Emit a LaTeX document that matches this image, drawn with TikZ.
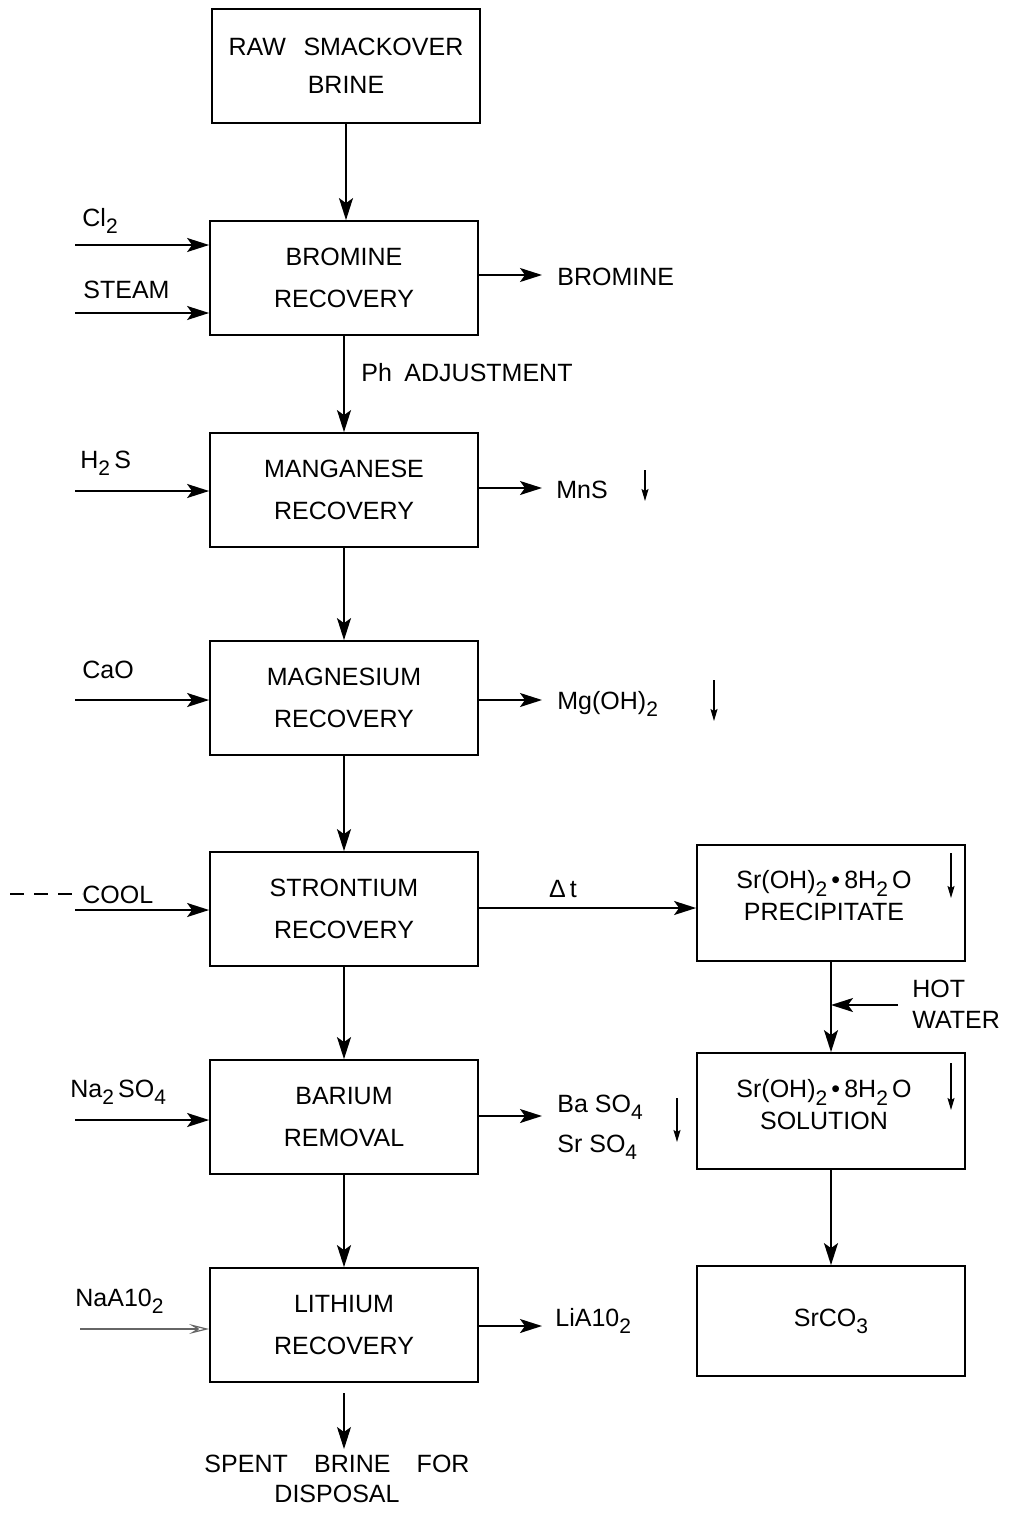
\documentclass[tikz,border=0pt]{standalone}
\usepackage{fontspec}
\setmainfont{Liberation Sans}
\usetikzlibrary{arrows.meta}
\newcommand\sbs[1]{\raisebox{-0.55ex}{\fontsize{10.5}{10.5}\selectfont #1}}
\begin{document}
\begin{tikzpicture}[x=0.5pt,y=-0.5pt,
  box/.style={draw,line width=0.9pt,minimum width=134pt,minimum height=57pt,align=center,
    font=\fontsize{12.5}{21}\selectfont,inner sep=0pt},
  rbox/.style={box,font=\fontsize{12.5}{18}\selectfont},
  lbl/.style={font=\fontsize{12.5}{15}\selectfont,inner sep=0pt,anchor=base west},
  flow/.style={line width=0.9pt,-{Stealth[length=11pt,width=7pt,inset=2.5pt]}},
  pdown/.style={line width=0.6pt,-{Stealth[length=6pt,width=3.5pt,inset=1pt]}}
]
\useasboundingbox (0,0) rectangle (1016,1515);

% main column
\node[box,font=\fontsize{12.5}{19}\selectfont] (raw) at (346,66) {RAW\hspace{0.7em}SMACKOVER\\BRINE};
\node[box] (brom) at (344,278) {BROMINE\\RECOVERY};
\node[box] (mang) at (344,490) {MANGANESE\\RECOVERY};
\node[box] (magn) at (344,698) {MAGNESIUM\\RECOVERY};
\node[box] (stro) at (344,909) {STRONTIUM\\RECOVERY};
\node[box] (bari) at (344,1117) {BARIUM\\REMOVAL};
\node[box] (lith) at (344,1325) {LITHIUM\\RECOVERY};

% right column
\node[rbox,minimum height=58pt] (prec) at (831,903) {};
\node[lbl,anchor=center,align=center] (prect) at (824,896) {Sr(OH)\sbs{2}\,\textbullet\,8H\sbs{2}\,O\\[1pt]PRECIPITATE};
\node[rbox,minimum height=58pt] (sol) at (831,1111) {};
\node[lbl,anchor=center,align=center] (solt) at (824,1105) {Sr(OH)\sbs{2}\,\textbullet\,8H\sbs{2}\,O\\[1pt]SOLUTION};
\node[rbox,minimum height=55pt] (srco) at (831,1321) {SrCO\sbs{3}};

% main flow
\draw[flow] (raw.south) -- (raw.south |- brom.north);
\draw[flow] (brom) -- (mang);
\draw[flow] (mang) -- (magn);
\draw[flow] (magn) -- (stro);
\draw[flow] (stro) -- (bari);
\draw[flow] (bari) -- (lith);
\coordinate (lithout) at (344,1393);
\node[lbl,anchor=north,align=center,font=\fontsize{12.5}{15}\selectfont] (spent) at (337,1455) {SPENT\hspace{1.05em}BRINE\hspace{1.05em}FOR\\DISPOSAL};
\draw[flow,line width=0.6pt] (lithout) -- ([yshift=3pt]lithout |- spent.north);

\node[lbl] (ph) at (361,381) {Ph\hspace{0.5em}ADJUSTMENT};

% inputs
\coordinate (clin) at (75,245);
\coordinate (stin) at (75,313);
\coordinate (h2in) at (75,491);
\coordinate (cain) at (75,700);
\coordinate (coin) at (75,910);
\coordinate (nain) at (75,1120);
\coordinate (alin) at (80,1329);
\node[lbl] (cl) at (82,226) {Cl\sbs{2}};
\node[lbl] (st) at (83,298) {STEAM};
\node[lbl] (h2s) at (80,468) {H\sbs{2}\,S};
\node[lbl] (cao) at (82,678) {CaO};
\node[lbl] (cool) at (82,903) {COOL};
\node[lbl] (na) at (70,1097) {Na\sbs{2}\,SO\sbs{4}};
\node[lbl] (naal) at (75,1306) {NaA10\sbs{2}};
\coordinate (dashstart) at (10,894);
\draw[line width=0.8pt,dash pattern=on 7pt off 5pt] (dashstart) -- (cool.west |- dashstart);

\draw[flow] (clin) -- (clin -| brom.west);
\draw[flow] (stin) -- (stin -| brom.west);
\draw[flow] (h2in) -- (h2in -| mang.west);
\draw[flow] (cain) -- (cain -| magn.west);
\draw[flow] (coin) -- (coin -| stro.west);
\draw[flow] (nain) -- (nain -| bari.west);
\draw[flow,line width=0.6pt,black!60,-{Stealth[length=10pt,width=5pt,inset=4pt,open]}] (alin) -- (alin -| lith.west);

% outputs
\coordinate (bo) at (542,275);
\coordinate (mo) at (542,488);
\coordinate (go) at (542,700);
\coordinate (bao) at (542,1116);
\coordinate (lo) at (542,1326);
\draw[flow] (brom.east |- bo) -- (bo);
\draw[flow] (mang.east |- mo) -- (mo);
\draw[flow] (magn.east |- go) -- (go);
\draw[flow] (bari.east |- bao) -- (bao);
\draw[flow] (lith.east |- lo) -- (lo);
\node[lbl] (brout) at (557,285) {BROMINE};
\node[lbl] (mns) at (556,498) {MnS};
\node[lbl] (mgoh) at (557,709) {Mg(OH)\sbs{2}};
\node[lbl] (baso) at (557,1112) {Ba SO\sbs{4}};
\node[lbl] (srso) at (557,1152) {Sr SO\sbs{4}};
\node[lbl] (lialo) at (555,1326) {LiA10\sbs{2}};

% precipitate marks
\coordinate (p1a) at (645,470); \coordinate (p1b) at (645,501);
\coordinate (p2a) at (714,680); \coordinate (p2b) at (714,721);
\coordinate (p3a) at (677,1098); \coordinate (p3b) at (677,1142);
\coordinate (p4a) at (951,853); \coordinate (p4b) at (951,898);
\coordinate (p5a) at (951,1063); \coordinate (p5b) at (951,1110);
\draw[pdown] (p1a) -- (p1b);
\draw[pdown] (p2a) -- (p2b);
\draw[pdown] (p3a) -- (p3b);
\draw[pdown] (p4a) -- (p4b);
\draw[pdown] (p5a) -- (p5b);

% strontium branch
\draw[flow] (stro.east |- 0,908) coordinate (se) -- (se -| prec.west);
\node[lbl,anchor=base] (dt) at (563,897) {Δ\,t};
\draw[flow] (prec.south) -- (sol.north);
\coordinate (hw) at (898,1005);
\draw[flow] (hw) -- (hw -| prec.south);
\node[lbl,align=left,anchor=west,font=\fontsize{12.5}{15.5}\selectfont] (hot) at (912,1004) {HOT\\WATER};
\draw[flow] (sol.south) -- (srco.north);
\end{tikzpicture}
\end{document}
